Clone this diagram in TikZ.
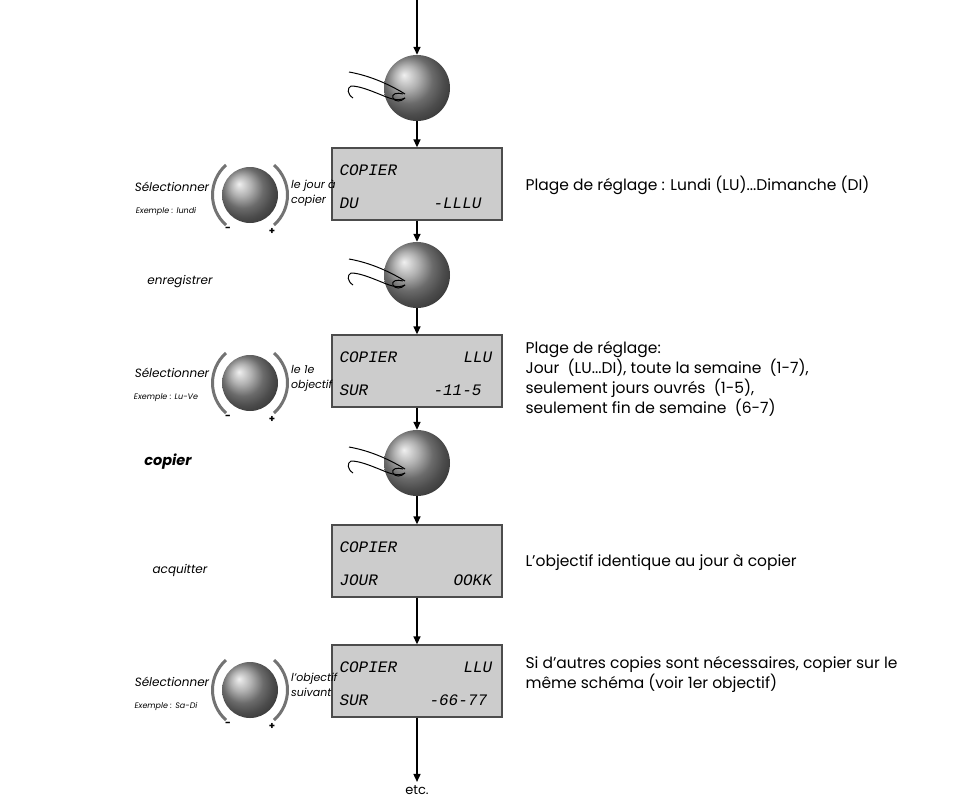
\documentclass[tikz,border=0pt]{standalone}
\usepackage{fontspec}
\setmainfont{Poppins}
\newfontfamily\lcd{Liberation Mono}
\usetikzlibrary{arrows.meta}
\begin{document}
\begin{tikzpicture}[x=1pt,y=-1pt,
  arr/.style={-{Triangle[length=8pt,width=7pt]},line width=1.5pt},
  lcdbox/.style={draw=black!70,line width=1.3pt,fill=black!20,minimum width=170pt,minimum height=72pt,inner sep=0},
  knob/.style={circle,ball color=black!40,minimum size=66pt,inner sep=0},
  lt/.style={anchor=west,font=\fontsize{16}{18}\selectfont\lcd\itshape},
  lab/.style={font=\fontsize{12}{14}\selectfont\itshape},
  dl/.style={anchor=west,align=left,inner sep=1pt,font=\fontsize{11}{15}\selectfont\itshape},
  small/.style={font=\fontsize{8}{10}\selectfont\itshape},
  rt/.style={anchor=west,align=left,font=\fontsize{15.5}{20}\selectfont}]
\useasboundingbox (0,0) rectangle (965,806);
\coordinate (top) at (417,0);
\node[knob] (k1) at (417,88) {};
\node[lcdbox] (l1) at (417,184) {};
\node[knob] (k2) at (417,275) {};
\node[lcdbox] (l2) at (417,371) {};
\node[knob] (k3) at (417,463) {};
\node[lcdbox] (l3) at (417,561) {};
\node[lcdbox] (l4) at (417,681) {};
\node[font=\fontsize{13}{15}\selectfont] (etc) at (417,790) {etc.};
\draw[arr] (top) -- (k1);
\draw[arr] (k1) -- (l1);
\draw[arr] (l1) -- (k2);
\draw[arr] (k2) -- (l2);
\draw[arr] (l2) -- (k3);
\draw[arr] (k3) -- (l3);
\draw[arr] (l3) -- (l4);
\draw[arr] (l4) -- (etc);
% hands
\foreach \k in {k1,k2,k3}{
 \begin{scope}[shift={(\k.center)}]
 \draw[line width=1pt] (-12,6) .. controls (-25,-2) and (-45,-12) .. (-68,-16)
   (-12,10) .. controls (-20,14) and (-28,10) .. (-38,6)
   .. controls (-48,2) and (-58,-2) .. (-66,-2);
 \draw[line width=1pt] (-14,6) .. controls (-20,4) and (-26,6) .. (-24,10) .. controls (-22,14) and (-16,14) .. (-12,10);
 \draw[line width=1pt] (-66,-2) .. controls (-70,0) and (-70,6) .. (-64,10);
 \end{scope}
}
% LCD texts
\node[lt] (t1a) at (336,170) {COPIER};
\node[lt] (t1b) at (336,203) {DU};
\node[lt] (t1c) at (430,203) {-LLLU};
\node[lt] (t2a) at (336,357) {COPIER};
\node[lt] (t2c) at (460,357) {LLU};
\node[lt] (t2b) at (336,390) {SUR};
\node[lt] (t2d) at (430,390) {-11-5};
\node[lt] (t3a) at (336,547) {COPIER};
\node[lt] (t3b) at (336,580) {JOUR};
\node[lt] (t3c) at (450,580) {OOKK};
\node[lt] (t4a) at (336,667) {COPIER};
\node[lt] (t4c) at (460,667) {LLU};
\node[lt] (t4b) at (336,700) {SUR};
\node[lt] (t4d) at (426,700) {-66-77};
% left knobs
\foreach \y/\n in {195/a,383/b,690/c}{
 \node[knob,minimum size=56pt] (s\n) at (250,\y) {};
 \draw[black!55,line width=3pt] (226,\y-30) .. controls (208,\y-14) and (208,\y+14) .. (226,\y+30);
 \draw[black!55,line width=3pt] (274,\y-30) .. controls (292,\y-14) and (292,\y+14) .. (274,\y+30);
 \node[font=\bfseries] (m\n) at (228,\y+34) {-};
 \node[font=\bfseries] (p\n) at (272,\y+36) {+};
}
\node[lab] (s1) at (172,187) {Sélectionner};
\node[small] (e1) at (166,211) {Exemple : lundi};
\node[dl] (d1) at (290,193) {le jour à\\copier};
\node[lab] (en) at (180,282) {enregistrer};
\node[lab] (s2) at (172,373) {Sélectionner};
\node[small] (e2) at (166,398) {Exemple : Lu-Ve};
\node[dl] (d2) at (290,378) {le 1e\\objectif};
\node[font=\fontsize{14.5}{16}\selectfont\bfseries\itshape] (cp) at (168,462) {copier};
\node[lab] (aq) at (180,570) {acquitter};
\node[lab] (s3) at (172,682) {Sélectionner};
\node[small] (e3) at (166,706) {Exemple : Sa-Di};
\node[dl] (d3) at (290,685) {l'objectif\\suivant};
% right texts
\node[rt] (r1) at (522,185) {Plage de réglage : Lundi (LU)...Dimanche (DI)};
\node[rt,anchor=north west] (r2) at (522,338) {Plage de réglage:\\Jour \ (LU...DI), toute la semaine \ (1-7),\\seulement jours ouvrés \ (1-5),\\seulement fin de semaine \ (6-7)};
\node[rt] (r3) at (522,562) {L'objectif identique au jour à copier};
\node[rt,anchor=north west] (r4) at (522,653) {Si d'autres copies sont nécessaires, copier sur le\\même schéma (voir 1er objectif)};
\end{tikzpicture}
\end{document}
